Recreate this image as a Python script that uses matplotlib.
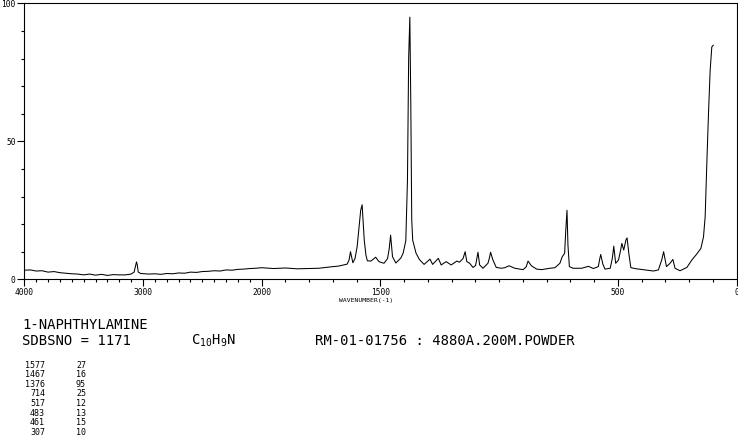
import matplotlib
matplotlib.use('Agg')
import matplotlib.pyplot as plt
import numpy as np
from matplotlib.ticker import FixedLocator, NullFormatter

plt.rcParams['font.family'] = ['DejaVu Sans Mono', 'DejaVu Sans']
plt.rcParams['mathtext.fontset'] = 'custom'
plt.rcParams['mathtext.rm'] = 'DejaVu Sans Mono'
plt.rcParams['mathtext.default'] = 'rm'

# ---- spectrum (wavenumber cm-1, relative intensity) ----
wavenumber = [
    4000, 3950, 3900, 3850, 3800, 3750, 3700, 3650, 3600, 3550, 3500, 3450,
    3400, 3350, 3300, 3250, 3200, 3150, 3100, 3075, 3062, 3055, 3048, 3040,
    3020, 2950, 2900, 2850, 2800, 2750, 2700, 2650, 2600, 2550, 2500, 2450,
    2400, 2350, 2300, 2250, 2200, 2150, 2100, 2050, 2000,
    1950, 1900, 1850, 1800, 1760, 1710, 1675, 1640, 1632, 1626, 1620, 1616,
    1607, 1598, 1590, 1583, 1577, 1572, 1568, 1561, 1555, 1540, 1520, 1506,
    1485, 1470, 1463, 1457, 1453, 1449, 1435, 1414, 1404, 1393, 1386, 1381,
    1376, 1372, 1368, 1364, 1350, 1336, 1316, 1291, 1280, 1256, 1244, 1223,
    1202, 1178, 1167, 1152, 1143, 1136, 1124, 1110, 1099, 1094, 1089, 1082,
    1068, 1047, 1040, 1036, 1026, 1012, 990, 976, 958, 934, 899, 886,
    878, 864, 842, 821, 786, 765, 744, 734, 724, 719, 714, 710,
    704, 689, 652, 624, 603, 582, 577, 572, 563, 554, 532, 523,
    517, 509, 497, 488, 483, 475, 466, 461, 453, 445, 421, 386,
    350, 329, 315, 307, 295, 280, 268, 259, 238, 209, 188, 167,
    150, 139, 132, 125, 118, 111, 104, 98,
]
intensity = [
    3.3, 3.4, 3.0, 3.1, 2.6, 2.8, 2.4, 2.2, 2.0, 1.9, 1.6, 1.9,
    1.5, 1.8, 1.4, 1.7, 1.6, 1.6, 1.9, 2.6, 5.0, 6.3, 5.2, 2.6,
    2.1, 1.9, 2.0, 1.8, 2.1, 2.0, 2.3, 2.2, 2.6, 2.5, 2.8, 2.9,
    3.1, 3.0, 3.4, 3.3, 3.6, 3.7, 3.9, 4.0, 4.2,
    3.9, 4.1, 3.8, 3.9, 4.0, 4.5, 4.8, 5.5, 7.0, 10.0, 7.5, 6.0,
    7.5, 11.8, 19, 25, 27, 20, 14.2, 8.8, 6.7, 6.6, 8.0, 6.4,
    5.8, 7.5, 11, 16, 12, 8.2, 5.9, 7.7, 9.5, 14, 36, 80,
    95, 64, 21.5, 14.2, 9.5, 7.2, 5.4, 7.3, 5.4, 7.6, 5.2, 6.4,
    5.2, 6.6, 6.2, 7.5, 10, 6.4, 5.8, 4.3, 5.0, 7.5, 9.8, 5.2,
    4.0, 5.8, 8.0, 9.8, 7.0, 4.3, 4.0, 4.2, 4.9, 4.0, 3.5, 4.5,
    6.6, 4.9, 3.7, 3.5, 4.0, 4.2, 5.8, 8.2, 9.4, 18, 25, 12.4,
    4.6, 4.0, 4.0, 4.7, 3.9, 4.6, 7.0, 9.0, 5.5, 3.7, 4.0, 7.6,
    12, 5.8, 7.0, 10.6, 13, 10.6, 14.2, 15, 9.0, 4.2, 3.8, 3.4,
    3.0, 3.4, 7.0, 10, 4.6, 5.8, 7.2, 4.0, 3.1, 4.3, 7.0, 9.2,
    11.2, 15.4, 22.7, 42, 60, 75.7, 84.2, 84.8,
]

# peak table printed under the chart
peak_wn = [1577, 1467, 1376, 714, 517, 483, 461, 307]
peak_int = [27, 16, 95, 25, 12, 13, 15, 10]

x_major = [4000, 3000, 2000, 1500, 500, 0]
x_minor = list(range(100, 4000, 100))
y_major = [0, 50, 100]
y_minor = list(range(0, 101, 10))


# axis above 2000 cm-1 is drawn at half scale
def fwd(w):
    w = np.asarray(w, dtype=float)
    return np.where(w > 2000, 2000 + (w - 2000) / 2, w)


def inv(u):
    u = np.asarray(u, dtype=float)
    return np.where(u > 2000, 2000 + (u - 2000) * 2, u)


W, H = 738, 437
fig = plt.figure(figsize=(W / 100, H / 100), dpi=100)
ax = fig.add_axes([24.3 / W, 157.7 / H, 712.2 / W, 276.0 / H])

ax.plot(wavenumber, intensity, color='black', linewidth=0.75)
ax.set_xscale('function', functions=(fwd, inv))
ax.set_xlim(4000, 0)
ax.set_ylim(0, 100)

ax.xaxis.set_major_locator(FixedLocator(x_major))
ax.xaxis.set_minor_locator(FixedLocator(x_minor))
ax.xaxis.set_minor_formatter(NullFormatter())
ax.set_xticklabels([str(v) for v in x_major])
ax.yaxis.set_major_locator(FixedLocator(y_major))
ax.yaxis.set_minor_locator(FixedLocator(y_minor))
ax.set_yticklabels([str(v) for v in y_major])

ax.tick_params(which='major', length=5, width=0.8, labelsize=5.7, pad=1.2,
               color='black')
ax.tick_params(which='minor', length=2.2, width=0.8, color='black')
for sp in ax.spines.values():
    sp.set_linewidth(0.8)


def ftext(x, y, s, **kw):
    fig.text(x / W, 1 - y / H, s, va='center', **kw)


ftext(366, 300.5, 'WAVENUMBER(-1)', ha='center', fontsize=4.6)
ftext(22, 325, '1-NAPHTHYLAMINE', ha='left', fontsize=10)
ftext(22, 341, 'SDBSNO = 1171', ha='left', fontsize=10)
ftext(191, 341, r'C$_{10}$H$_{9}$N', ha='left', fontsize=10)
ftext(315, 341, 'RM-01-01756 : 4880A.200M.POWDER', ha='left', fontsize=10)

for i, (wn, it) in enumerate(zip(peak_wn, peak_int)):
    y = 365 + i * 9.6
    ftext(45, y, str(wn), ha='right', fontsize=6)
    ftext(86, y, str(it), ha='right', fontsize=6)

fig.savefig('out.png', dpi=100)
